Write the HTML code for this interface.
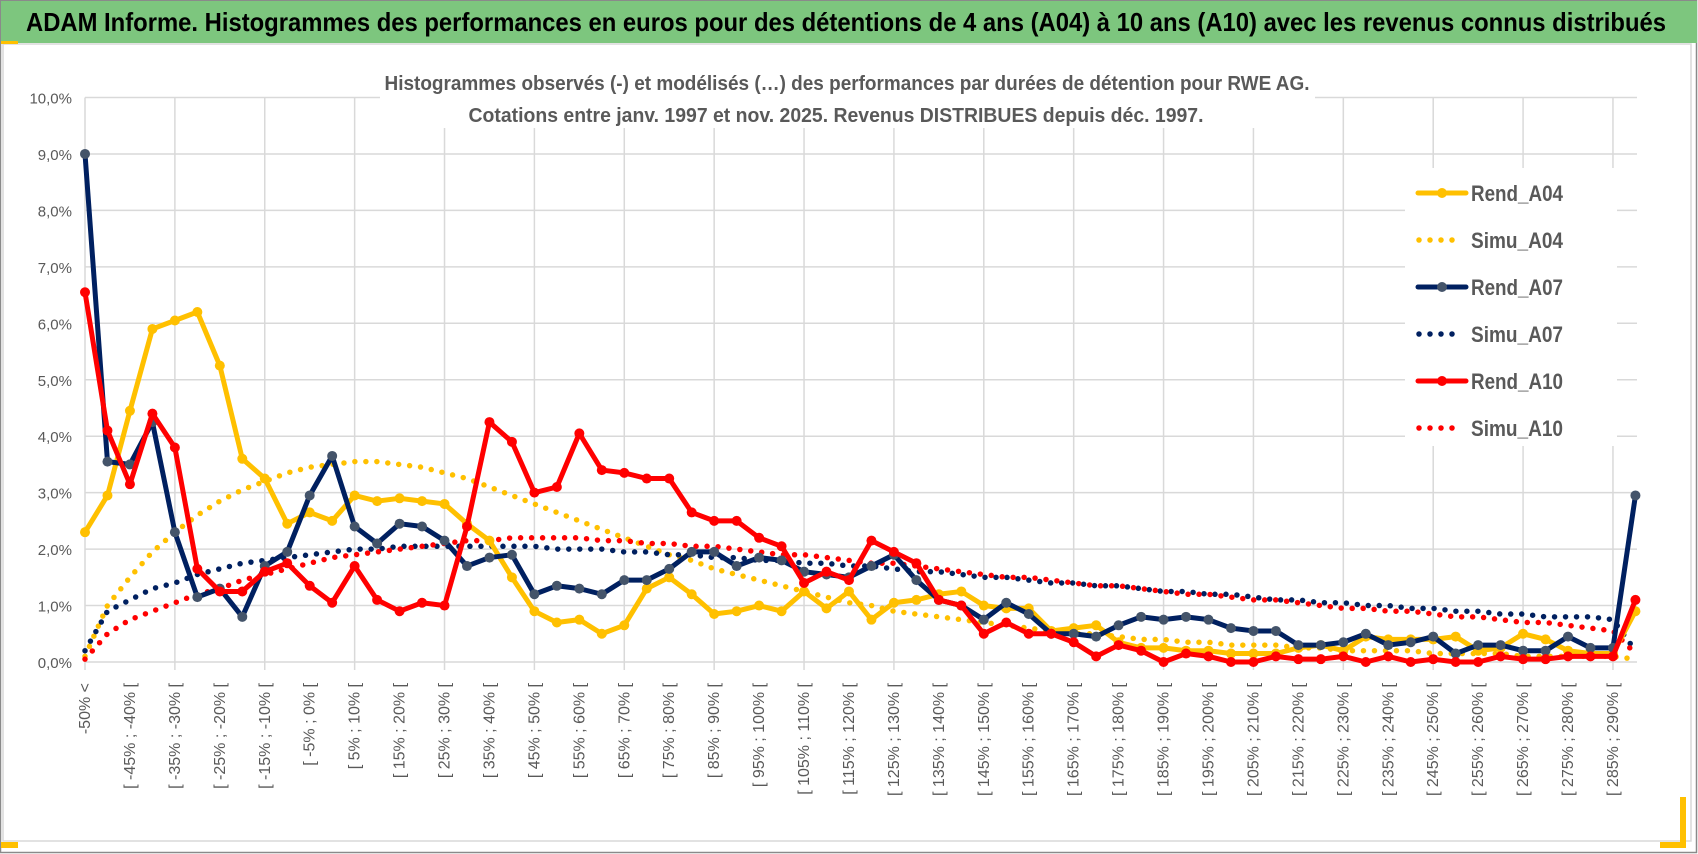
<!DOCTYPE html>
<html><head><meta charset="utf-8"><style>
html,body{margin:0;padding:0;background:#fff;}
svg{display:block;font-family:"Liberation Sans",sans-serif;}
</style></head><body>
<svg id="chart" width="1698" height="854" viewBox="0 0 1698 854" xmlns="http://www.w3.org/2000/svg">
<rect x="0" y="0" width="1698" height="854" fill="#fff"/>
<rect x="0.5" y="0.5" width="1696" height="852" fill="none" stroke="#8a8a8a" stroke-width="1.5"/>
<rect x="3" y="44" width="1688" height="797" fill="none" stroke="#d9d9d9" stroke-width="1.5"/>
<rect x="1" y="1" width="1696" height="42" fill="#7dc67e"/>
<rect x="1" y="41" width="17" height="3" fill="#ffc000"/>
<rect x="1" y="842" width="17" height="6" fill="#ffc000"/>
<rect x="1680" y="797" width="6" height="50" fill="#ffc000"/>
<rect x="1660" y="842" width="26" height="6" fill="#ffc000"/>
<text x="26" y="31" font-size="26" font-weight="bold" fill="#000" textLength="1640" lengthAdjust="spacingAndGlyphs">ADAM Informe. Histogrammes des performances en euros pour des détentions de 4 ans (A04) à 10 ans (A10) avec les revenus connus distribués</text>
<g id="grid"></g>
<g id="yaxis"></g>
<g id="xaxis"></g>
<g id="series"></g>
<g>
<rect x="380" y="62" width="935" height="66" fill="#fff"/>
<text x="847" y="90" text-anchor="middle" font-size="20" font-weight="bold" fill="#595959" textLength="925" lengthAdjust="spacingAndGlyphs">Histogrammes observés (-) et modélisés (…) des performances par durées de détention pour RWE AG.</text>
<text x="836" y="122" text-anchor="middle" font-size="20" font-weight="bold" fill="#595959" textLength="735" lengthAdjust="spacingAndGlyphs">Cotations entre janv. 1997 et nov. 2025. Revenus DISTRIBUES depuis déc. 1997.</text>
</g>
<g id="legend">
<rect x="1405" y="168" width="212" height="278" fill="#fff"/>
</g>
</svg>
<script>
const categories = (function(){const c=["-50% <"];for(let v=-50;v<=290;v+=5){c.push("[ "+v+"% ; "+(v+5)+"% [");}return c;})();
const yTicks = [0,1,2,3,4,5,6,7,8,9,10];
const yTickLabels = ["0,0%","1,0%","2,0%","3,0%","4,0%","5,0%","6,0%","7,0%","8,0%","9,0%","10,0%"];
const rendA04 = [2.3,2.95,4.45,5.9,6.05,6.2,5.25,3.6,3.25,2.45,2.65,2.5,2.95,2.85,2.9,2.85,2.8,2.45,2.15,1.5,0.9,0.7,0.75,0.5,0.65,1.3,1.5,1.2,0.85,0.9,1.0,0.9,1.25,0.95,1.25,0.75,1.05,1.1,1.2,1.25,1.0,0.95,0.95,0.55,0.6,0.65,0.35,0.25,0.25,0.2,0.2,0.15,0.15,0.15,0.25,0.3,0.2,0.45,0.4,0.4,0.4,0.45,0.2,0.25,0.5,0.4,0.2,0.15,0.15,0.9];
const simuA04 = [0.1,1.0,1.5,1.95,2.3,2.6,2.85,3.05,3.2,3.35,3.45,3.5,3.55,3.55,3.5,3.45,3.35,3.25,3.1,2.95,2.8,2.65,2.5,2.35,2.2,2.05,1.9,1.8,1.65,1.55,1.45,1.35,1.25,1.15,1.05,1.0,0.9,0.85,0.8,0.75,0.7,0.65,0.6,0.55,0.5,0.5,0.45,0.4,0.4,0.35,0.35,0.3,0.3,0.3,0.25,0.25,0.2,0.2,0.2,0.2,0.15,0.15,0.15,0.15,0.1,0.1,0.1,0.1,0.1,0.05];
const rendA07 = [9.0,3.55,3.5,4.25,2.3,1.15,1.3,0.8,1.7,1.95,2.95,3.65,2.4,2.1,2.45,2.4,2.15,1.7,1.85,1.9,1.2,1.35,1.3,1.2,1.45,1.45,1.65,1.95,1.95,1.7,1.85,1.8,1.6,1.55,1.5,1.7,1.9,1.45,1.1,1.0,0.75,1.05,0.85,0.5,0.5,0.45,0.65,0.8,0.75,0.8,0.75,0.6,0.55,0.55,0.3,0.3,0.35,0.5,0.3,0.35,0.45,0.15,0.3,0.3,0.2,0.2,0.45,0.25,0.25,2.95];
const simuA07 = [0.2,0.9,1.1,1.3,1.4,1.55,1.65,1.75,1.8,1.85,1.9,1.95,2.0,2.0,2.05,2.05,2.05,2.05,2.05,2.05,2.05,2.0,2.0,2.0,1.95,1.95,1.9,1.9,1.85,1.85,1.8,1.8,1.75,1.75,1.7,1.7,1.65,1.6,1.6,1.55,1.5,1.5,1.45,1.4,1.4,1.35,1.35,1.3,1.25,1.25,1.2,1.2,1.15,1.1,1.1,1.05,1.05,1.0,1.0,0.95,0.95,0.9,0.9,0.85,0.85,0.8,0.8,0.8,0.75,0.2];
const rendA10 = [6.55,4.1,3.15,4.4,3.8,1.65,1.25,1.25,1.6,1.75,1.35,1.05,1.7,1.1,0.9,1.05,1.0,2.4,4.25,3.9,3.0,3.1,4.05,3.4,3.35,3.25,3.25,2.65,2.5,2.5,2.2,2.05,1.4,1.6,1.45,2.15,1.95,1.75,1.1,1.0,0.5,0.7,0.5,0.5,0.35,0.1,0.3,0.2,0.0,0.15,0.1,0.0,0.0,0.1,0.05,0.05,0.1,0.0,0.1,0.0,0.05,0.0,0.0,0.1,0.05,0.05,0.1,0.1,0.1,1.1];
const simuA10 = [0.05,0.5,0.75,0.9,1.05,1.2,1.3,1.45,1.55,1.65,1.75,1.85,1.9,1.95,2.0,2.05,2.1,2.15,2.15,2.2,2.2,2.2,2.2,2.15,2.15,2.1,2.1,2.05,2.05,2.0,1.95,1.9,1.9,1.85,1.8,1.75,1.75,1.7,1.65,1.6,1.55,1.5,1.5,1.45,1.4,1.35,1.35,1.3,1.25,1.2,1.2,1.15,1.1,1.1,1.05,1.0,0.95,0.95,0.9,0.9,0.85,0.8,0.8,0.75,0.7,0.7,0.65,0.6,0.55,0.15];
const seriesNames = ["Rend_A04","Simu_A04","Rend_A07","Simu_A07","Rend_A10","Simu_A10"];

const NS="http://www.w3.org/2000/svg";
const X0=85, STEP=22.47, Y0=662, PX=56.45, XR=1637;
const xPos=i=>X0+i*STEP;
const yPos=v=>Y0-v*PX;
function mk(tag,attrs,parent){const e=document.createElementNS(NS,tag);for(const k in attrs)e.setAttribute(k,attrs[k]);parent.appendChild(e);return e;}

const grid=document.getElementById('grid');
yTicks.forEach((t,i)=>{
  const l=mk('line',{x1:X0,x2:XR,y1:yPos(t),y2:yPos(t),stroke:'#d9d9d9','stroke-width':1.5},grid);
  
  
});
for(let i=0;i<categories.length;i+=4){
  const l=mk('line',{x1:xPos(i),x2:xPos(i),y1:yPos(10),y2:Y0+8,stroke:'#d9d9d9','stroke-width':1.5},grid);
  
  
}
const ya=document.getElementById('yaxis');
yTicks.forEach((t,i)=>{
  const tx=mk('text',{x:72,y:yPos(t)+6,'text-anchor':'end','font-size':15,fill:'#595959'},ya);
  tx.textContent=yTickLabels[i];
  
  
});
const xa=document.getElementById('xaxis');
categories.forEach((c,i)=>{
  if(i%2!==0 || i>68) return;
  const x=xPos(i)+5, y=683;
  const tx=mk('text',{x:x,y:y,transform:`rotate(-90 ${x} ${y})`,'text-anchor':'end','font-size':16,fill:'#595959'},xa);
  tx.textContent=c;
  
  
});

const sg=document.getElementById('series');
function dotted(data,color,name){
  const p=mk('polyline',{points:data.map((v,i)=>xPos(i)+','+yPos(v)).join(' '),fill:'none',stroke:color,'stroke-width':5.5,'stroke-linecap':'round','stroke-dasharray':'0 11'},sg);
  
  
}
function solid(data,color,mcolor,name){
  const g=mk('g',{},sg);
  
  
  mk('polyline',{points:data.map((v,i)=>xPos(i)+','+yPos(v)).join(' '),fill:'none',stroke:color,'stroke-width':5,'stroke-linejoin':'round'},g);
  data.forEach((v,i)=>{
    const c=mk('circle',{cx:xPos(i),cy:yPos(v),r:5,fill:mcolor},g);
    
    
  });
}
dotted(simuA04,'#ffc000','simu-a04-line');
dotted(simuA07,'#002060','simu-a07-line');
dotted(simuA10,'#ff0000','simu-a10-line');
solid(rendA04,'#ffc000','#ffc000','rend-a04-line');
solid(rendA07,'#002060','#44546a','rend-a07-line');
solid(rendA10,'#ff0000','#ff0000','rend-a10-line');

const lg=document.getElementById('legend');
const lgColors=['#ffc000','#ffc000','#002060','#002060','#ff0000','#ff0000'];
const lgY=[193,240,287,334,381,428];
seriesNames.forEach((n,i)=>{
  const g=mk('g',{},lg);
  
  
  const y=lgY[i];
  if(i%2===0){
    mk('line',{x1:1418,x2:1466,y1:y,y2:y,stroke:lgColors[i],'stroke-width':5,'stroke-linecap':'round'},g);
    mk('circle',{cx:1442,cy:y,r:5,fill:i===2?'#44546a':lgColors[i]},g);
  } else {
    mk('line',{x1:1419,x2:1460,y1:y,y2:y,stroke:lgColors[i],'stroke-width':5.5,'stroke-linecap':'round','stroke-dasharray':'0 11'},g);
  }
  const t=mk('text',{x:1471,y:y+8,'font-size':22,'font-weight':'bold',fill:'#595959',textLength:92,lengthAdjust:'spacingAndGlyphs'},g);
  t.textContent=n;
});
</script>
</body></html>
